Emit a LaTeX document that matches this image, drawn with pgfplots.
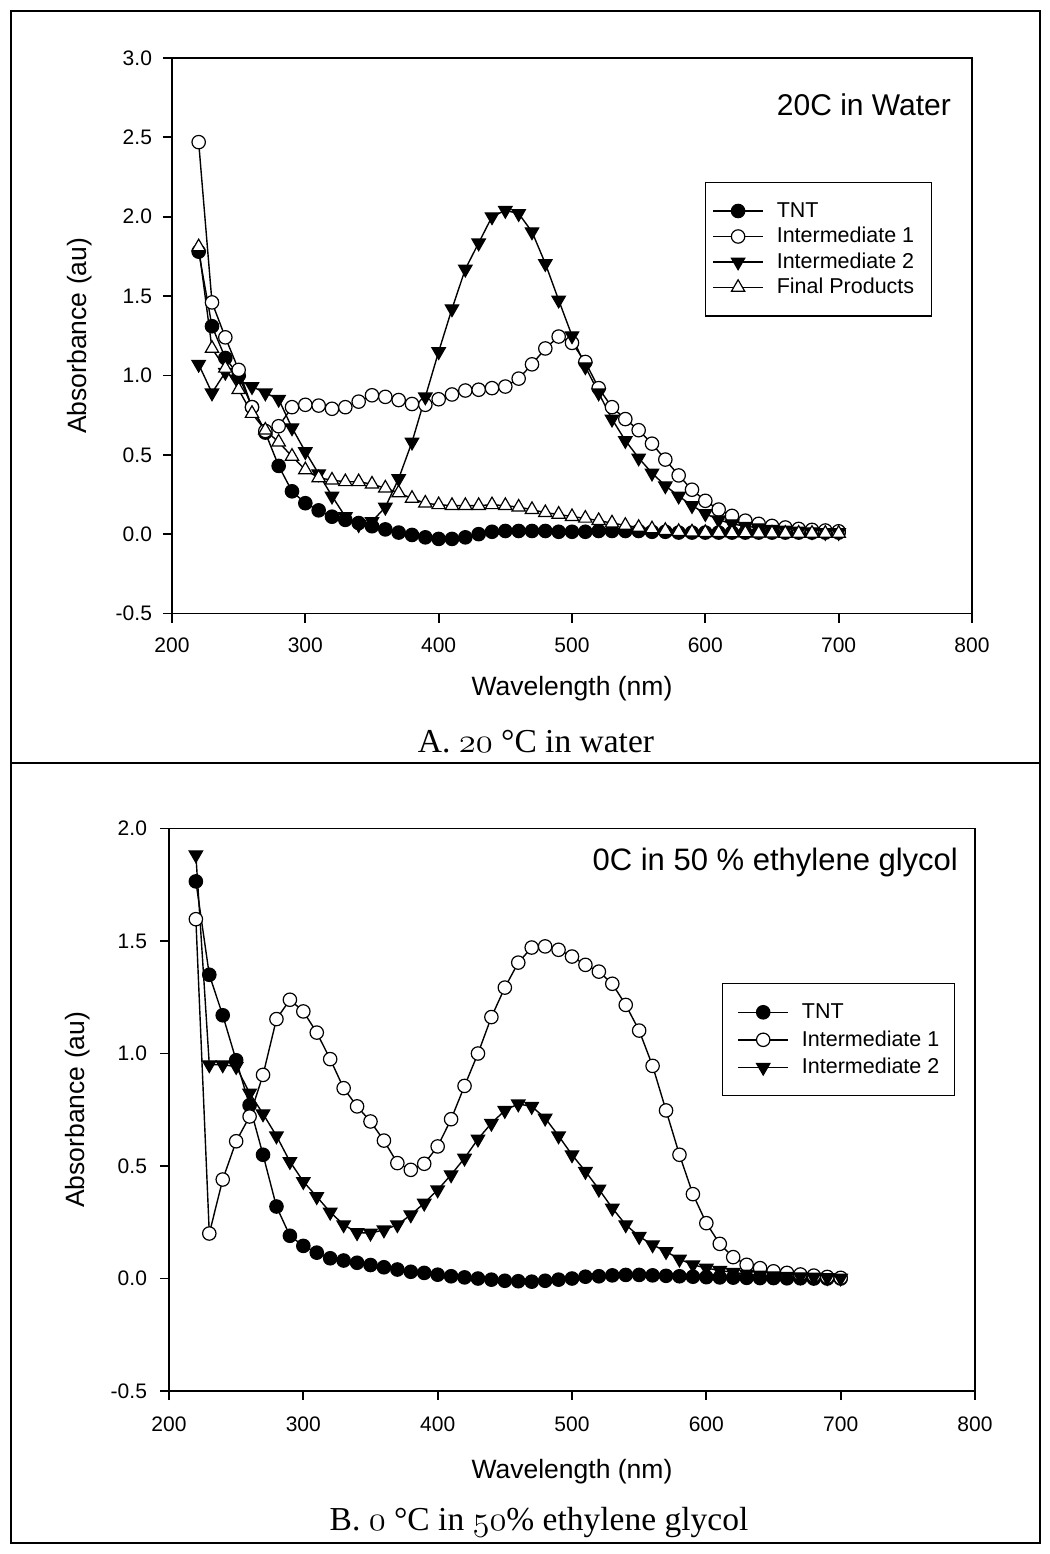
\documentclass[border=0pt]{standalone}
\usepackage{fontspec}
\setmainfont{Liberation Sans}
\newfontfamily\capfont{Liberation Serif}
\usepackage{pgfplots}
\pgfplotsset{compat=1.18}
\usepackage{pgfplotstable}
\newcommand\osn[1]{{\fontencoding{OML}\fontfamily{cmm}\fontseries{m}\fontshape{it}\selectfont #1}}

\pgfplotstableread{
x tnt i1 i2 fp
220 1.78 2.47 1.07 1.81
230 1.31 1.46 0.89 1.17
240 1.11 1.24 1.02 1.045
250 1.00 1.035 0.97 0.91
260 0.80 0.80 0.93 0.76
270 0.64 0.65 0.89 0.655
280 0.43 0.68 0.85 0.58
290 0.27 0.80 0.67 0.49
300 0.195 0.815 0.52 0.405
310 0.15 0.81 0.38 0.355
320 0.11 0.79 0.24 0.34
330 0.09 0.80 0.11 0.33
340 0.07 0.835 0.06 0.33
350 0.05 0.875 0.08 0.315
360 0.03 0.865 0.17 0.29
370 0.01 0.845 0.35 0.26
380 -0.005 0.82 0.58 0.225
390 -0.02 0.815 0.865 0.195
400 -0.03 0.85 1.15 0.185
410 -0.03 0.88 1.42 0.18
420 -0.02 0.905 1.67 0.18
430 0.00 0.91 1.835 0.18
440 0.015 0.92 2.0 0.185
450 0.02 0.93 2.04 0.18
460 0.02 0.98 2.02 0.17
470 0.02 1.07 1.905 0.155
480 0.02 1.17 1.705 0.135
490 0.015 1.245 1.475 0.125
500 0.015 1.205 1.25 0.11
510 0.015 1.085 1.055 0.10
520 0.02 0.92 0.89 0.085
530 0.02 0.80 0.725 0.07
540 0.02 0.725 0.59 0.055
550 0.02 0.655 0.48 0.042
560 0.015 0.57 0.385 0.033
570 0.015 0.47 0.305 0.023
580 0.01 0.37 0.24 0.016
590 0.01 0.28 0.18 0.013
600 0.01 0.21 0.13 0.01
610 0.01 0.155 0.09 0.01
620 0.01 0.115 0.065 0.008
630 0.01 0.085 0.05 0.008
640 0.01 0.065 0.04 0.006
650 0.01 0.052 0.03 0.006
660 0.01 0.042 0.025 0.005
670 0.01 0.033 0.02 0.005
680 0.01 0.027 0.015 0.005
690 0.01 0.023 0.01 0.005
700 0.01 0.018 0.01 0.005
}\dataA

\pgfplotstableread{
x tnt i1 i2
220 1.765 1.597 1.883
230 1.35 0.20 0.95
240 1.17 0.44 0.95
250 0.97 0.61 0.942
260 0.77 0.72 0.824
270 0.55 0.905 0.732
280 0.32 1.153 0.634
290 0.19 1.239 0.52
300 0.145 1.187 0.431
310 0.115 1.093 0.364
320 0.09 0.975 0.295
330 0.08 0.846 0.239
340 0.07 0.765 0.204
350 0.06 0.698 0.202
360 0.05 0.613 0.216
370 0.04 0.513 0.239
380 0.03 0.483 0.283
390 0.025 0.51 0.335
400 0.017 0.587 0.394
410 0.01 0.708 0.461
420 0.005 0.856 0.535
430 0.0 1.0 0.62
440 -0.005 1.162 0.69
450 -0.01 1.293 0.747
460 -0.012 1.404 0.776
470 -0.014 1.471 0.765
480 -0.01 1.476 0.713
490 -0.005 1.461 0.634
500 0.0 1.431 0.55
510 0.008 1.394 0.476
520 0.01 1.364 0.397
530 0.014 1.31 0.313
540 0.016 1.216 0.239
550 0.016 1.102 0.187
560 0.014 0.945 0.15
570 0.012 0.747 0.12
580 0.01 0.55 0.086
590 0.008 0.375 0.061
600 0.006 0.246 0.046
610 0.005 0.154 0.036
620 0.004 0.095 0.027
630 0.003 0.061 0.02
640 0.002 0.046 0.015
650 0.002 0.032 0.012
660 0.001 0.025 0.01
670 0.001 0.018 0.008
680 0.0 0.013 0.006
690 0.0 0.007 0.004
700 0.0 0.003 0.002
}\dataB

\pgfplotsset{
  common/.style={
    scale only axis,
    xmin=200, xmax=800,
    xtick={200,300,400,500,600,700,800},
    xticklabels={200,300,400,500,600,700,800},
    axis line style={line width=0.9pt},
    tick style={line width=0.9pt, black},
    tick align=outside,
    major tick length=4.5pt,
    xtick pos=bottom, ytick pos=left,
    minor tick num=0,
    tick label style={font=\fontsize{10.5}{12}\selectfont},
    label style={font=\fontsize{13.25}{15}\selectfont},
    xlabel={Wavelength (nm)},
    ylabel={Absorbance (au)},
    legend image code/.code={\draw[mark repeat=2,mark phase=2,##1] plot coordinates {(0pt,0pt)(12.5pt,0pt)(25pt,0pt)};},
  },
  lgd/.style={anchor=north west, draw=black, line width=0.6pt, fill=white,
    font=\fontsize{10.75}{12.75}\selectfont, inner ysep=8pt,
    column sep=6.5pt,
    nodes={inner xsep=0pt, inner ysep=1.5pt, text height=8pt, text depth=1.5pt},
    cells={anchor=west}},
  sTNT/.style={black, line width=0.7pt, mark=*, mark size=3.35pt, mark options={solid, fill=black, line width=0.6pt}},
  sI1/.style={black, line width=0.7pt, mark=*, mark size=3.35pt, mark options={solid, fill=white, line width=0.6pt}},
  sI2/.style={black, line width=0.7pt, mark=triangle*, mark size=3.85pt, mark options={solid, rotate=180, fill=black, line width=0.6pt}},
  sFP/.style={black, line width=0.7pt, mark=triangle*, mark size=3.85pt, mark options={solid, fill=white, line width=0.6pt}},
}

\begin{document}
\begin{tikzpicture}
\path[use as bounding box] (0pt,0pt) rectangle (525pt,-777pt);
\draw[line width=1pt] (5.5pt,-5.5pt) rectangle (520pt,-771.5pt);
\draw[line width=1pt] (5.5pt,-381.5pt) -- (520pt,-381.5pt);

\begin{axis}[common,
  at={(86pt,-306.75pt)}, anchor=south west,
  width=400pt, height=277.75pt,
  ymin=-0.5, ymax=3.0,
  ytick={-0.5,0,0.5,1,1.5,2,2.5,3},
  yticklabels={-0.5,0.0,0.5,1.0,1.5,2.0,2.5,3.0},
  xticklabel style={yshift=-4pt},
  yticklabel style={xshift=-2pt},
  xlabel style={at={(axis description cs:0.5,-0.136)}, anchor=center},
  ylabel style={at={(axis description cs:-0.116,0.5)}, anchor=center},
  legend style={lgd, inner xsep=3.5pt, at={(rel axis cs:0.666,0.777)}, row sep=0.25pt},
]
\addplot[sTNT] table[x=x,y=tnt] {\dataA}; \addlegendentry{TNT}
\addplot[sI1] table[x=x,y=i1] {\dataA}; \addlegendentry{Intermediate 1}
\addplot[sI2] table[x=x,y=i2] {\dataA}; \addlegendentry{Intermediate 2}
\addplot[sFP] table[x=x,y=fp] {\dataA}; \addlegendentry{Final Products\hspace*{5pt}}
\node[anchor=east, font=\fontsize{15}{18}\selectfont] at (rel axis cs:0.9825,0.915) {20C in Water};
\end{axis}

\begin{axis}[common,
  at={(84.5pt,-695.5pt)}, anchor=south west,
  width=403pt, height=281.25pt,
  ymin=-0.5, ymax=2.0,
  ytick={-0.5,0,0.5,1,1.5,2},
  yticklabels={-0.5,0.0,0.5,1.0,1.5,2.0},
  xticklabel style={yshift=-5pt},
  yticklabel style={xshift=-3pt},
  xlabel style={at={(axis description cs:0.5,-0.144)}, anchor=center},
  ylabel style={at={(axis description cs:-0.113,0.5)}, anchor=center},
  legend style={lgd, inner xsep=7.5pt, at={(rel axis cs:0.686,0.725)}, row sep=1.25pt},
]
\addplot[sTNT] table[x=x,y=tnt] {\dataB}; \addlegendentry{TNT}
\addplot[sI1] table[x=x,y=i1] {\dataB}; \addlegendentry{Intermediate 1}
\addplot[sI2] table[x=x,y=i2] {\dataB}; \addlegendentry{Intermediate 2}
\node[anchor=east, font=\fontsize{15.5}{18}\selectfont] at (rel axis cs:0.9876,0.94) {0C in 50 \% ethylene glycol};
\end{axis}

\node[font=\capfont\fontsize{16.75}{20}\selectfont, anchor=base] at (268pt,-376pt) {A. \osn{20} °C in water};
\node[font=\capfont\fontsize{16.75}{20}\selectfont, anchor=base] at (269.5pt,-765pt) {B. \osn{0} °C in \osn{50}\% ethylene glycol};
\end{tikzpicture}
\end{document}
